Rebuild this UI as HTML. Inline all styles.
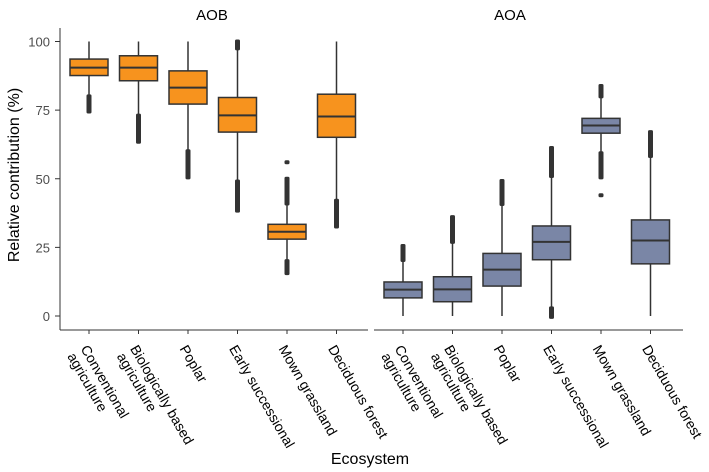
<!DOCTYPE html>
<html><head><meta charset="utf-8"><style>
html,body{margin:0;padding:0;background:#fff;width:709px;height:472px;overflow:hidden}
svg text{font-family:"Liberation Sans",Arial,sans-serif}
</style></head><body>
<svg id="chart" width="709" height="472" viewBox="0 0 709 472" xmlns="http://www.w3.org/2000/svg"></svg>
<script>
const categories = [["Conventional","agriculture"],["Biologically based","agriculture"],["Poplar"],["Early successional"],["Mown grassland"],["Deciduous forest"]];
const yTicks = [0,25,50,75,100];
// AOB: [whiskerLow, q1, median, q3, whiskerHigh]
const aobStats = [[80,87.6,90.5,93.6,100],[72.9,85.7,90.5,94.8,100],[59.9,77.2,83.2,89.3,100],[49.3,67,73.1,79.6,97.5],[20.4,28,30.7,33.4,41],[42.3,65.1,72.7,80.8,100]];
const aobOutliers = [[[74.5,80]],[[63.5,73]],[[50.5,60]],[[38.4,49],[97.5,100]],[[15.6,20],[41,50],[56,56]],[[32.6,42]]];
const aoaStats = [[0,6.6,9.6,12.4,20.4],[0,5.2,9.7,14.3,27],[0,10.9,16.9,22.8,40.8],[3,20.5,27,32.8,51],[59.3,66.6,69.4,72,80],[0,19,27.5,35,58.3]];
const aoaOutliers = [[[20.4,25.5]],[[27,36]],[[40.8,49.2]],[[51,61.2],[-0.3,2.8]],[[80,83.8],[50.5,59.3],[44,44]],[[58.3,67]]];

const svg=document.getElementById('chart');
const NS='http://www.w3.org/2000/svg';
function el(t,a,p){const e=document.createElementNS(NS,t);for(const k in a)e.setAttribute(k,a[k]);(p||svg).appendChild(e);return e;}
const yScale=v=>316-v*2.745;
const panels=[
 {title:'AOB',x0:60,x1:368,start:89,fill:'#F7931E',stats:aobStats,outl:aobOutliers,tx:212},
 {title:'AOA',x0:374,x1:683,start:403,fill:'#7A86A6',stats:aoaStats,outl:aoaOutliers,tx:510}
];
const step=49.5, bw=38;
const yax=el('g',{});


el('line',{x1:60,y1:28,x2:60,y2:330,stroke:'#333','stroke-width':1},yax);
yTicks.forEach(t=>{
  const y=yScale(t);
  el('line',{x1:55,y1:y,x2:60,y2:y,stroke:'#333'},yax);
  const tx=el('text',{x:50,y:y+5,'text-anchor':'end','font-size':13,fill:'#4d4d4d'},yax);
  tx.textContent=t;
  
  
});
const yt=el('text',{x:0,y:0,transform:'translate(19,175) rotate(-90)','text-anchor':'middle','font-size':16,fill:'#000'});
yt.textContent='Relative contribution (%)';


const xt=el('text',{x:370,y:464,'text-anchor':'middle','font-size':16,fill:'#000'});
xt.textContent='Ecosystem';



panels.forEach(p=>{
  const g=el('g',{});
  
  
  const t=el('text',{x:p.tx,y:20,'text-anchor':'middle','font-size':15,fill:'#000'},g);
  t.textContent=p.title;
  
  
  el('line',{x1:p.x0,y1:330,x2:p.x1,y2:330,stroke:'#333'},g);
  p.stats.forEach((s,i)=>{
    const cx=p.start+i*step;
    const b=el('g',{},g);
    
    
    el('line',{x1:cx,y1:yScale(s[4]),x2:cx,y2:yScale(s[0]),stroke:'#333','stroke-width':1.5},b);
    el('rect',{x:cx-bw/2,y:yScale(s[3]),width:bw,height:yScale(s[1])-yScale(s[3]),fill:p.fill,stroke:'#333','stroke-width':1.5},b);
    el('line',{x1:cx-bw/2,y1:yScale(s[2]),x2:cx+bw/2,y2:yScale(s[2]),stroke:'#333','stroke-width':2},b);
    p.outl[i].forEach(o=>{
      const y1=yScale(o[1]),y2=yScale(o[0]);
      el('rect',{x:cx-2.5,y:y1-2,width:5,height:(y2-y1)+4,rx:1.5,fill:'#333'},b);
    });
    el('line',{x1:cx,y1:330,x2:cx,y2:334,stroke:'#333'},g);
    const lab=el('text',{transform:`translate(${cx+1},343) rotate(60)`,'font-size':14,fill:'#000'},g);
    
    
    categories[i].forEach((line,j)=>{
      const ts=el('tspan',{x:0,dy:j===0?'0.8em':'1.1em'},lab);
      ts.textContent=line;
    });
  });
});
</script>
</body></html>
